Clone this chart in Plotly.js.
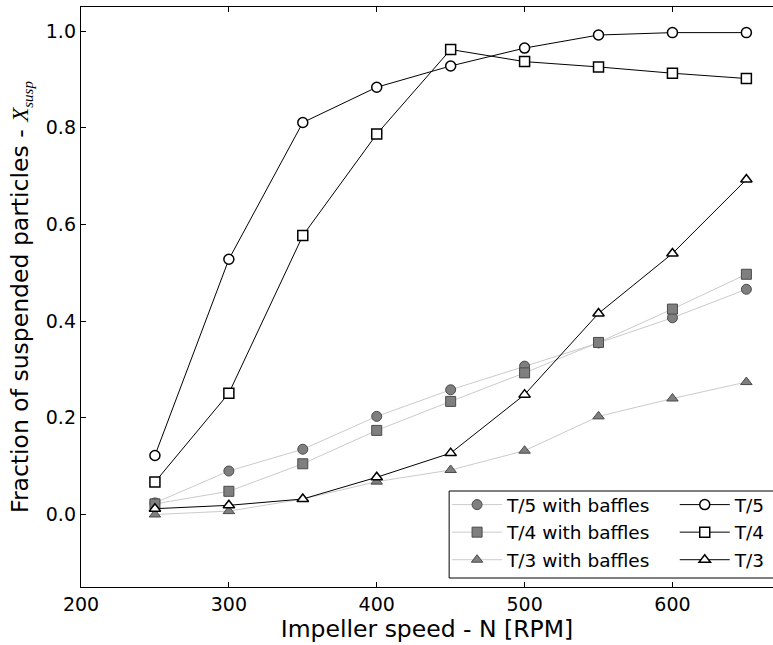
<!DOCTYPE html>
<html>
<head>
<meta charset="utf-8">
<script src="https://cdn.plot.ly/plotly-3.0.1.min.js"></script>
<style>html,body{margin:0;padding:0;background:#fff;}#chart{width:773px;height:645px;}</style>
</head>
<body>
<div id="chart"></div>
<script>
const speeds = [250, 300, 350, 400, 450, 500, 550, 600, 650];

const t5Baffles = [0.024, 0.090, 0.135, 0.203, 0.258, 0.307, 0.355, 0.407, 0.466];
const t4Baffles = [0.022, 0.048, 0.105, 0.174, 0.234, 0.293, 0.356, 0.425, 0.497];
const t3Baffles = [0.000, 0.007, 0.032, 0.068, 0.092, 0.132, 0.203, 0.240, 0.274];

const t5 = [0.122, 0.528, 0.811, 0.884, 0.928, 0.965, 0.992, 0.997, 0.997];
const t4 = [0.067, 0.251, 0.577, 0.787, 0.962, 0.937, 0.926, 0.913, 0.902];
const t3 = [0.012, 0.019, 0.032, 0.077, 0.127, 0.248, 0.416, 0.540, 0.693];

const seriesNames = ['T/5 with baffles', 'T/4 with baffles', 'T/3 with baffles', 'T/5', 'T/4', 'T/3'];

const grayLine = {color: '#c4c4c4', width: 0.9};
const grayMarker = (sym) => ({symbol: sym, size: 10, color: '#7f7f7f', line: {color: '#4a4a4a', width: 1}});
const blackLine = {color: '#000', width: 1};
const openMarker = (sym) => ({symbol: sym, size: 10, color: '#fff', line: {color: '#000', width: 1.5}});

const traces = [
  {x: speeds, y: t5Baffles, name: seriesNames[0], mode: 'lines+markers', line: grayLine, marker: grayMarker('circle'), legend: 'legend', legendgroup: 'a'},
  {x: speeds, y: t4Baffles, name: seriesNames[1], mode: 'lines+markers', line: grayLine, marker: grayMarker('square'), legend: 'legend', legendgroup: 'b'},
  {x: speeds, y: t3Baffles, name: seriesNames[2], mode: 'lines+markers', line: grayLine, marker: grayMarker('triangle-up'), legend: 'legend', legendgroup: 'c'},
  {x: speeds, y: t5, name: seriesNames[3], mode: 'lines+markers', line: blackLine, marker: openMarker('circle'), legend: 'legend2', legendgroup: 'd'},
  {x: speeds, y: t4, name: seriesNames[4], mode: 'lines+markers', line: blackLine, marker: openMarker('square'), legend: 'legend2', legendgroup: 'e'},
  {x: speeds, y: t3, name: seriesNames[5], mode: 'lines+markers', line: blackLine, marker: openMarker('triangle-up'), legend: 'legend2', legendgroup: 'f'}
];

const font = 'DejaVu Sans, sans-serif';

const legendCommon = {
  xanchor: 'left', yanchor: 'top', y: 0.174,
  bgcolor: 'rgba(0,0,0,0)', borderwidth: 0,
  font: {family: font, size: 18.5}, itemwidth: 50, tracegroupgap: 0.5
};

const layout = {
  width: 773, height: 645,
  margin: {l: 81, r: 0, t: 7, b: 58, pad: 0},
  paper_bgcolor: '#fff', plot_bgcolor: '#fff',
  font: {family: font, color: '#000', size: 19},
  showlegend: true,
  xaxis: {
    range: [200, 668], dtick: 100, tick0: 200,
    ticks: 'inside', ticklen: 5, tickwidth: 1, tickcolor: '#000',
    showline: true, linecolor: '#000', linewidth: 1.2, mirror: 'allticks',
    showgrid: false, zeroline: false,
    tickfont: {family: font, size: 19},
    title: {text: 'Impeller speed - N [RPM]', font: {family: font, size: 23.5}, standoff: 4},
    automargin: false
  },
  yaxis: {
    range: [-0.15, 1.05], dtick: 0.2, tick0: 0, tickformat: '.1f',
    ticks: 'inside', ticklen: 5, tickwidth: 1, tickcolor: '#000',
    showline: true, linecolor: '#000', linewidth: 1.2, mirror: false,
    showgrid: false, zeroline: false,
    tickfont: {family: font, size: 19},
    title: {text: 'Fraction of suspended particles - <span style="font-family:\'Liberation Serif\';font-size:23px"><i>X</i></span><sub><span style="font-family:\'Liberation Serif\';font-size:15px"><i>susp</i></span></sub>', font: {family: font, size: 23.5}, standoff: 10},
    automargin: false
  },
  legend: Object.assign({}, legendCommon, {x: 0.529}),
  legend2: Object.assign({}, legendCommon, {x: 0.858}),
  shapes: [{
    type: 'rect', xref: 'paper', yref: 'paper',
    x0: 0.532, x1: 1.02, y0: 0.0155, y1: 0.1655,
    line: {color: '#000', width: 1}, fillcolor: 'rgba(0,0,0,0)', layer: 'above'
  }]
};

Plotly.newPlot('chart', traces, layout, {displayModeBar: false, staticPlot: true});
</script>
</body>
</html>
